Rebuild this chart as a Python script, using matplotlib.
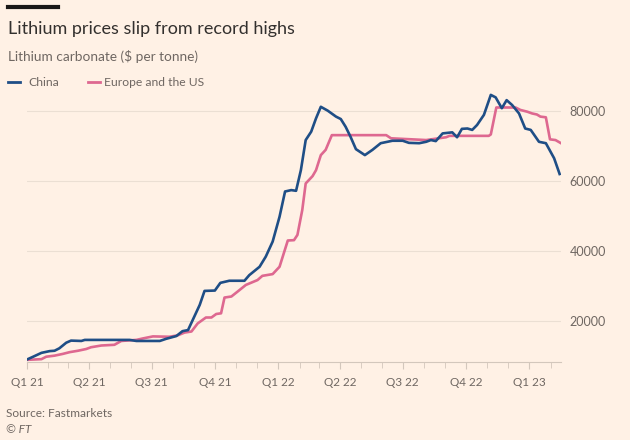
import matplotlib
matplotlib.use("Agg")
import matplotlib.pyplot as plt
import matplotlib.dates as mdates
import pandas as pd

# lithium carbonate, $ per tonne
china_dates = ["2021-01-01", "2021-01-10", "2021-01-22", "2021-02-03", "2021-02-10", "2021-02-17",
               "2021-02-27", "2021-03-06", "2021-03-21", "2021-03-26", "2021-05-30", "2021-06-09",
               "2021-07-13", "2021-07-22", "2021-08-06", "2021-08-15", "2021-08-23", "2021-09-09",
               "2021-09-16", "2021-10-01", "2021-10-09", "2021-10-22", "2021-11-13", "2021-11-20",
               "2021-12-05", "2021-12-14", "2021-12-24", "2022-01-03", "2022-01-11", "2022-01-20",
               "2022-01-27", "2022-02-03", "2022-02-10", "2022-02-18", "2022-02-25", "2022-03-04",
               "2022-03-14", "2022-03-26", "2022-04-02", "2022-04-09", "2022-04-16", "2022-04-24",
               "2022-05-07", "2022-05-18", "2022-05-30", "2022-06-16", "2022-07-01", "2022-07-10",
               "2022-07-25", "2022-08-04", "2022-08-11", "2022-08-18", "2022-08-28", "2022-09-11",
               "2022-09-18", "2022-09-25", "2022-10-03", "2022-10-10", "2022-10-17", "2022-10-27",
               "2022-11-06", "2022-11-13", "2022-11-22", "2022-11-29", "2022-12-07", "2022-12-17",
               "2022-12-26", "2023-01-03", "2023-01-15", "2023-01-25", "2023-02-06", "2023-02-14"]
china = [9000, 9800, 10900, 11400, 11500, 12200,
         13800, 14400, 14300, 14600, 14600, 14300,
         14300, 14900, 15700, 17100, 17400, 24600,
         28600, 28700, 30900, 31500, 31500, 33100,
         35500, 38400, 42700, 49800, 57000, 57400,
         57200, 63100, 71700, 74100, 77900, 81200,
         80100, 78400, 77700, 75500, 72700, 69100,
         67400, 68900, 70800, 71500, 71500, 70900,
         70800, 71200, 71700, 71400, 73600, 73900,
         72500, 74900, 75000, 74600, 76000, 78900,
         84600, 83900, 80800, 83100, 81700, 79300,
         75000, 74600, 71200, 70800, 66500, 62000]

euus_dates = ["2021-01-01", "2021-01-22", "2021-01-29", "2021-02-10", "2021-02-22", "2021-03-04",
              "2021-03-16", "2021-03-28", "2021-04-04", "2021-04-19", "2021-05-08", "2021-05-18",
              "2021-06-09", "2021-06-18", "2021-07-03", "2021-07-27", "2021-08-08", "2021-08-18",
              "2021-08-28", "2021-09-06", "2021-09-18", "2021-09-26", "2021-10-03", "2021-10-10",
              "2021-10-15", "2021-10-25", "2021-11-03", "2021-11-15", "2021-12-02", "2021-12-09",
              "2021-12-24", "2022-01-03", "2022-01-15", "2022-01-24", "2022-01-29", "2022-02-05",
              "2022-02-10", "2022-02-20", "2022-02-25", "2022-03-04", "2022-03-11", "2022-03-20",
              "2022-06-07", "2022-06-14", "2022-08-04", "2022-09-02", "2022-09-07", "2022-11-03",
              "2022-11-06", "2022-11-14", "2022-12-12", "2022-12-19", "2022-12-29", "2023-01-05",
              "2023-01-12", "2023-01-17", "2023-01-25", "2023-01-31", "2023-02-08", "2023-02-16"]
euus = [8900, 9100, 9800, 10100, 10600, 11100,
        11500, 12000, 12500, 13000, 13200, 14300,
        14600, 15000, 15600, 15500, 15900, 16700,
        17000, 19300, 21000, 21000, 22000, 22200,
        26700, 27000, 28400, 30300, 31700, 32900,
        33400, 35500, 43000, 43100, 44600, 51700,
        59300, 61400, 63100, 67400, 68900, 73100,
        73100, 72200, 71700, 72500, 72900, 72900,
        73300, 81000, 81000, 80300, 79800, 79300,
        79000, 78400, 78200, 71900, 71700, 70800]

y_ticks = [20000, 40000, 60000, 80000]
q_ticks = ["2021-01-01", "2021-04-01", "2021-07-01", "2021-10-01", "2022-01-01",
           "2022-04-01", "2022-07-01", "2022-10-01", "2023-01-01"]
q_labels = ["Q1 21", "Q2 21", "Q3 21", "Q4 21", "Q1 22", "Q2 22", "Q3 22", "Q4 22", "Q1 23"]

bg = "#fff1e5"
blue = "#1f4e86"
pink = "#de6890"
grey = "#6f6762"
plt.rcParams['font.family'] = ['Lato', 'DejaVu Sans']

fig = plt.figure(figsize=(6.3, 4.4), dpi=100, facecolor=bg)
ax = fig.add_axes([27/630, 1 - 361.5/440, (561 - 27)/630, (361.5 - 90)/440])
ax.set_facecolor(bg)

ax.plot(pd.to_datetime(euus_dates), euus, color=pink, lw=1.9, solid_joinstyle='round')
ax.plot(pd.to_datetime(china_dates), china, color=blue, lw=1.9, solid_joinstyle='round')

ax.set_xlim(pd.Timestamp("2021-01-01"), pd.Timestamp("2023-02-16"))
ax.set_ylim(8430, 86000)

ax.yaxis.tick_right()
ax.set_yticks(y_ticks)
ax.set_yticklabels([str(v) for v in y_ticks])
ax.tick_params(axis='y', length=0, pad=6, labelsize=9, labelcolor=grey)
ax.grid(axis='y', color='#ebdfd3', lw=0.8)
ax.set_axisbelow(True)

ax.set_xticks(pd.to_datetime(q_ticks))
ax.set_xticklabels(q_labels)
ax.xaxis.set_minor_locator(mdates.MonthLocator())
ax.tick_params(axis='x', which='major', length=5, color='#d3c7bc', labelsize=8.5,
               labelcolor=grey, pad=6)
ax.tick_params(axis='x', which='minor', length=4, color='#d3c7bc')

for s in ['top', 'left', 'right']:
    ax.spines[s].set_visible(False)
ax.spines['bottom'].set_color('#d3c7bc')
ax.spines['bottom'].set_linewidth(0.8)

# header
fig.add_artist(plt.Line2D([8/630, 58/630], [1 - 7.5/440, 1 - 7.5/440], color='#1a1817', lw=3))
fig.text(8/630, 1 - 34/440, "Lithium prices slip from record highs", fontsize=13, color='#33302e')
fig.text(8/630, 1 - 61/440, "Lithium carbonate ($ per tonne)", fontsize=9.8, color=grey)

# legend
fig.add_artist(plt.Line2D([8/630, 20/630], [1 - 81.5/440, 1 - 81.5/440], color=blue, lw=2))
fig.text(28/630, 1 - 85.5/440, "China", fontsize=8.7, color=grey)
fig.add_artist(plt.Line2D([88/630, 100/630], [1 - 81.5/440, 1 - 81.5/440], color=pink, lw=2))
fig.text(104/630, 1 - 85.5/440, "Europe and the US", fontsize=8.7, color=grey)

fig.text(6/630, 1 - 417/440, "Source: Fastmarkets", fontsize=8.6, color=grey)
fig.text(6/630, 1 - 433/440, "© FT", fontsize=8.6, color=grey, style='italic')

fig.savefig("out.png", dpi=100, facecolor=bg)
